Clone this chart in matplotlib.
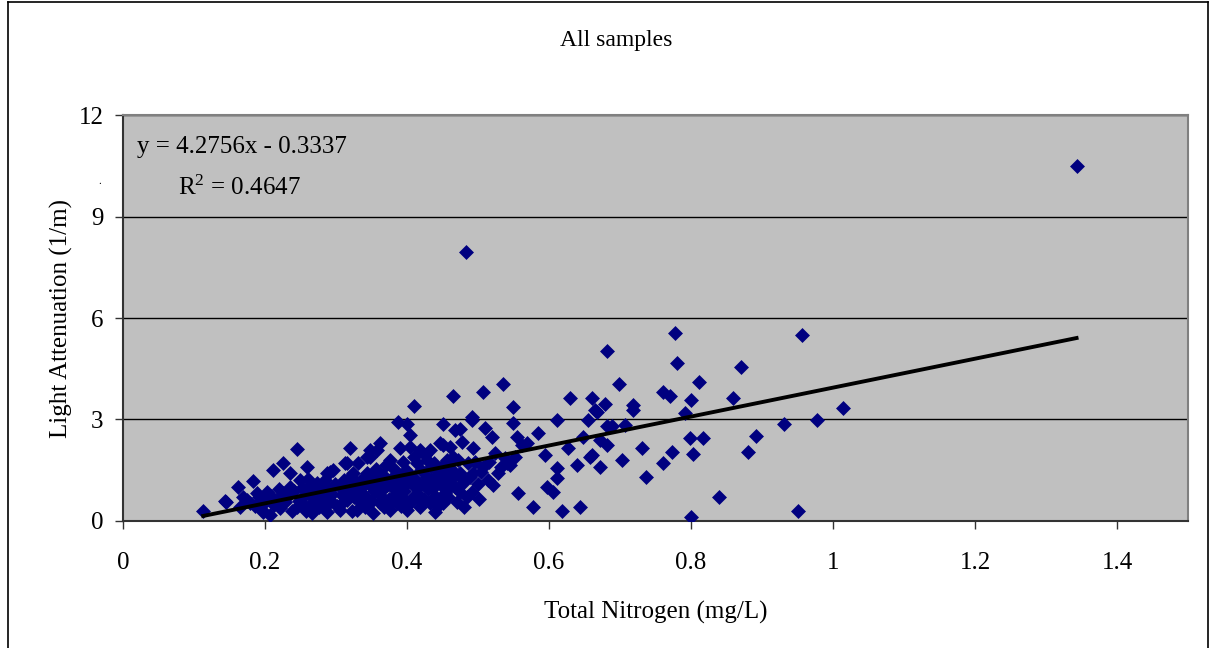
import numpy as np
import matplotlib
matplotlib.use('Agg')
import matplotlib.pyplot as plt
from matplotlib.lines import Line2D

# (total nitrogen mg/L, light attenuation 1/m)
cluster_low = [
    (0.113, 0.30), (0.144, 0.59), (0.145, 0.56), (0.162, 1.00), (0.165, 0.41), (0.169, 0.71),
    (0.179, 0.53), (0.183, 1.18), (0.189, 0.83), (0.196, 0.33), (0.197, 0.27), (0.203, 0.86),
    (0.207, 0.18), (0.211, 1.50), (0.217, 0.62), (0.221, 0.38), (0.225, 1.71), (0.225, 0.83),
    (0.235, 1.00), (0.235, 1.42), (0.245, 2.13), (0.245, 0.41), (0.249, 1.21), (0.254, 0.71),
    (0.259, 1.60), (0.266, 0.24), (0.273, 1.12), (0.282, 0.83), (0.287, 1.42), (0.287, 0.92),
    (0.287, 0.27), (0.292, 1.45), (0.292, 0.62), (0.296, 1.51),
    (0.175, 0.62), (0.186, 0.45), (0.192, 0.70), (0.200, 0.55), (0.208, 0.75), (0.213, 0.48),
    (0.219, 0.95), (0.228, 0.55), (0.231, 0.70), (0.238, 0.30), (0.241, 0.88), (0.248, 0.58),
    (0.252, 0.98), (0.256, 0.45), (0.262, 0.80), (0.264, 1.05), (0.268, 0.55), (0.271, 0.90),
    (0.276, 0.40), (0.279, 0.68), (0.284, 1.05), (0.289, 0.50), (0.294, 0.80), (0.298, 1.10),
    (0.258, 0.30), (0.270, 0.70), (0.280, 0.50), (0.285, 1.20), (0.260, 1.25), (0.275, 0.95),
]

cluster_mid = [
    (0.306, 1.00), (0.306, 0.33), (0.313, 1.71), (0.315, 0.62), (0.315, 1.71), (0.320, 2.16),
    (0.324, 1.42), (0.330, 1.00), (0.330, 0.33), (0.331, 1.71), (0.338, 0.53), (0.344, 1.42),
    (0.344, 1.90), (0.348, 1.90), (0.348, 2.10), (0.352, 0.24), (0.358, 2.10), (0.358, 1.00),
    (0.362, 2.31), (0.362, 0.53), (0.366, 1.36), (0.376, 1.80), (0.376, 0.33), (0.380, 0.98),
    (0.386, 1.36), (0.386, 0.53), (0.387, 2.93), (0.390, 2.16), (0.394, 1.74), (0.400, 2.87),
    (0.400, 0.33), (0.404, 2.54), (0.404, 2.19), (0.404, 1.36), (0.408, 0.71), (0.410, 3.40),
    (0.414, 1.71), (0.414, 0.98), (0.418, 2.10), (0.418, 0.41), (0.428, 1.80), (0.428, 1.30),
    (0.432, 2.10), (0.432, 0.53), (0.437, 0.98), (0.439, 0.27), (0.446, 2.31), (0.446, 1.45),
    (0.451, 2.87), (0.451, 0.62), (0.451, 0.53), (0.451, 2.25), (0.454, 0.83), (0.456, 1.80),
    (0.456, 0.92), (0.456, 1.42), (0.460, 2.19), (0.460, 1.12), (0.465, 3.70), (0.465, 1.30),
    (0.465, 1.90), (0.468, 2.69),
    (0.302, 0.45), (0.309, 0.78), (0.311, 1.20), (0.318, 0.95), (0.322, 0.30), (0.326, 0.70),
    (0.328, 1.15), (0.334, 0.85), (0.336, 1.25), (0.341, 0.40), (0.342, 0.70), (0.346, 1.10),
    (0.350, 0.60), (0.354, 0.90), (0.356, 1.55), (0.360, 1.20), (0.364, 0.75), (0.368, 0.40),
    (0.370, 1.65), (0.372, 1.05), (0.374, 0.65), (0.378, 1.25), (0.382, 1.55), (0.384, 0.80),
    (0.388, 1.10), (0.392, 0.45), (0.396, 0.90), (0.398, 1.50), (0.402, 1.15), (0.406, 0.55),
    (0.410, 1.90), (0.412, 1.20), (0.416, 0.80), (0.420, 1.50), (0.422, 1.10), (0.424, 0.65),
    (0.426, 1.95), (0.430, 0.95), (0.434, 1.60), (0.436, 1.20), (0.440, 0.75), (0.442, 1.35),
    (0.444, 0.45), (0.448, 1.05), (0.450, 1.65), (0.453, 1.25), (0.458, 0.70), (0.462, 1.55),
    (0.467, 1.00), (0.470, 0.55),
    (0.310, 0.55), (0.320, 1.30), (0.333, 0.60), (0.340, 1.05), (0.352, 1.30), (0.366, 0.95),
    (0.378, 0.55), (0.390, 1.30), (0.396, 0.65), (0.408, 1.05), (0.420, 0.60), (0.438, 1.70),
]

cluster_high = [
    (0.475, 1.42), (0.475, 0.86), (0.475, 2.72), (0.477, 2.34), (0.479, 1.12), (0.480, 0.40),
    (0.483, 7.95), (0.486, 1.71), (0.492, 3.07), (0.492, 2.99), (0.492, 0.86), (0.493, 2.16),
    (0.493, 1.42), (0.501, 0.65), (0.507, 3.80), (0.507, 1.60), (0.510, 2.75), (0.514, 1.21),
    (0.520, 2.48), (0.521, 1.06), (0.524, 2.01), (0.528, 1.42), (0.535, 4.05), (0.541, 1.71),
    (0.549, 3.37), (0.549, 2.90), (0.552, 1.90), (0.555, 2.48), (0.556, 0.83), (0.562, 2.25),
    (0.569, 2.31), (0.577, 0.41), (0.585, 2.60), (0.594, 1.95), (0.597, 1.00), (0.606, 0.86),
    (0.611, 2.99), (0.611, 1.57), (0.611, 1.27), (0.618, 0.30), (0.627, 2.16), (0.630, 3.64),
    (0.639, 1.66), (0.644, 0.41), (0.648, 2.48),
    (0.472, 1.80), (0.478, 1.25), (0.484, 0.70), (0.488, 1.30), (0.496, 1.75), (0.500, 1.10),
    (0.504, 1.45), (0.516, 1.75), (0.532, 1.60), (0.538, 1.85), (0.545, 1.65),
]

sparse_tail = [
    (0.655, 2.99), (0.658, 1.90), (0.661, 3.64), (0.661, 1.95), (0.665, 3.28), (0.668, 3.22),
    (0.672, 2.39), (0.672, 1.60), (0.679, 3.46), (0.682, 5.03), (0.682, 2.81), (0.682, 2.25),
    (0.689, 2.81), (0.703, 1.80), (0.699, 4.05), (0.707, 2.84), (0.718, 3.43), (0.718, 3.28),
    (0.731, 2.16), (0.736, 1.30), (0.761, 3.81), (0.761, 1.71), (0.770, 3.70), (0.773, 2.04),
    (0.777, 5.56), (0.780, 4.67), (0.792, 3.19), (0.799, 2.45), (0.800, 3.58), (0.800, 0.12),
    (0.803, 1.98), (0.811, 4.11), (0.817, 2.45), (0.839, 0.71), (0.859, 3.64), (0.870, 4.55),
    (0.880, 2.04), (0.891, 2.51), (0.931, 2.87), (0.951, 0.30), (0.956, 5.50), (0.977, 2.99),
    (1.014, 3.34), (1.343, 10.50),
]

# trend line as printed on the chart
slope, intercept, r_squared = 4.2756, -0.3337, 0.4647

samples = np.array(cluster_low + cluster_mid + cluster_high + sparse_tail)
tn, atten = samples[:, 0], samples[:, 1]

plt.rcParams['font.family'] = 'Liberation Serif'
plt.rcParams['mathtext.fontset'] = 'custom'
plt.rcParams['mathtext.rm'] = 'Liberation Serif'
plt.rcParams['mathtext.default'] = 'regular'

fig = plt.figure(figsize=(12.17, 6.48), dpi=100)
ax = fig.add_axes([0.1011, 0.196, 0.8751, 0.6265])
ax.set_facecolor('#C0C0C0')

ax.scatter(tn, atten, marker='D', s=58, color='#000080', linewidths=0, zorder=3)

x_fit = np.array([tn.min(), tn.max()])
ax.plot(x_fit, slope * x_fit + intercept, color='black', lw=2.8, zorder=4)

ax.set_xlim(0, 1.5)
ax.set_ylim(0, 12)
ax.set_xticks([0, 0.2, 0.4, 0.6, 0.8, 1.0, 1.2, 1.4])
ax.set_xticklabels(['0', '0.2', '0.4', '0.6', '0.8', '1', '1.2', '1.4'])
ax.set_yticks([0, 3, 6, 9, 12])
ax.yaxis.grid(True, color='black', lw=1)
ax.set_axisbelow(True)
ax.tick_params(axis='both', labelsize=18, length=6, width=1, color='#333333', direction='out')
ax.tick_params(axis='x', pad=16)
ax.tick_params(axis='y', pad=8)

for side in ['top', 'right']:
    ax.spines[side].set_color('#808080')
    ax.spines[side].set_linewidth(1.5)
for side in ['left', 'bottom']:
    ax.spines[side].set_color('#333333')
    ax.spines[side].set_linewidth(1.5)

ax.set_xlabel('Total Nitrogen (mg/L)', fontsize=18, labelpad=20)
ax.set_ylabel('Light Attenuation (1/m)', fontsize=18, labelpad=4)

ax.text(0.013, 0.921, f'y = {slope}x - {abs(intercept)}', transform=ax.transAxes,
        fontsize=18, va='center', ha='left')
ax.text(0.052, 0.82, f'R$^{{2}}$ = {r_squared}', transform=ax.transAxes,
        fontsize=18, va='center', ha='left')

fig.text(0.506, 0.938, 'All samples', fontsize=17, ha='center', va='center')
fig.text(0.082, 0.72, '.', fontsize=8, ha='center', va='center')

# chart-area border
for xs, ys in [([0.0066, 0.0066], [0, 0.997]), ([0.9926, 0.9926], [0, 0.997]),
               ([0.0066, 0.9926], [0.997, 0.997])]:
    fig.add_artist(Line2D(xs, ys, color='black', lw=1.2, transform=fig.transFigure))

fig.savefig('out.png', dpi=100)
